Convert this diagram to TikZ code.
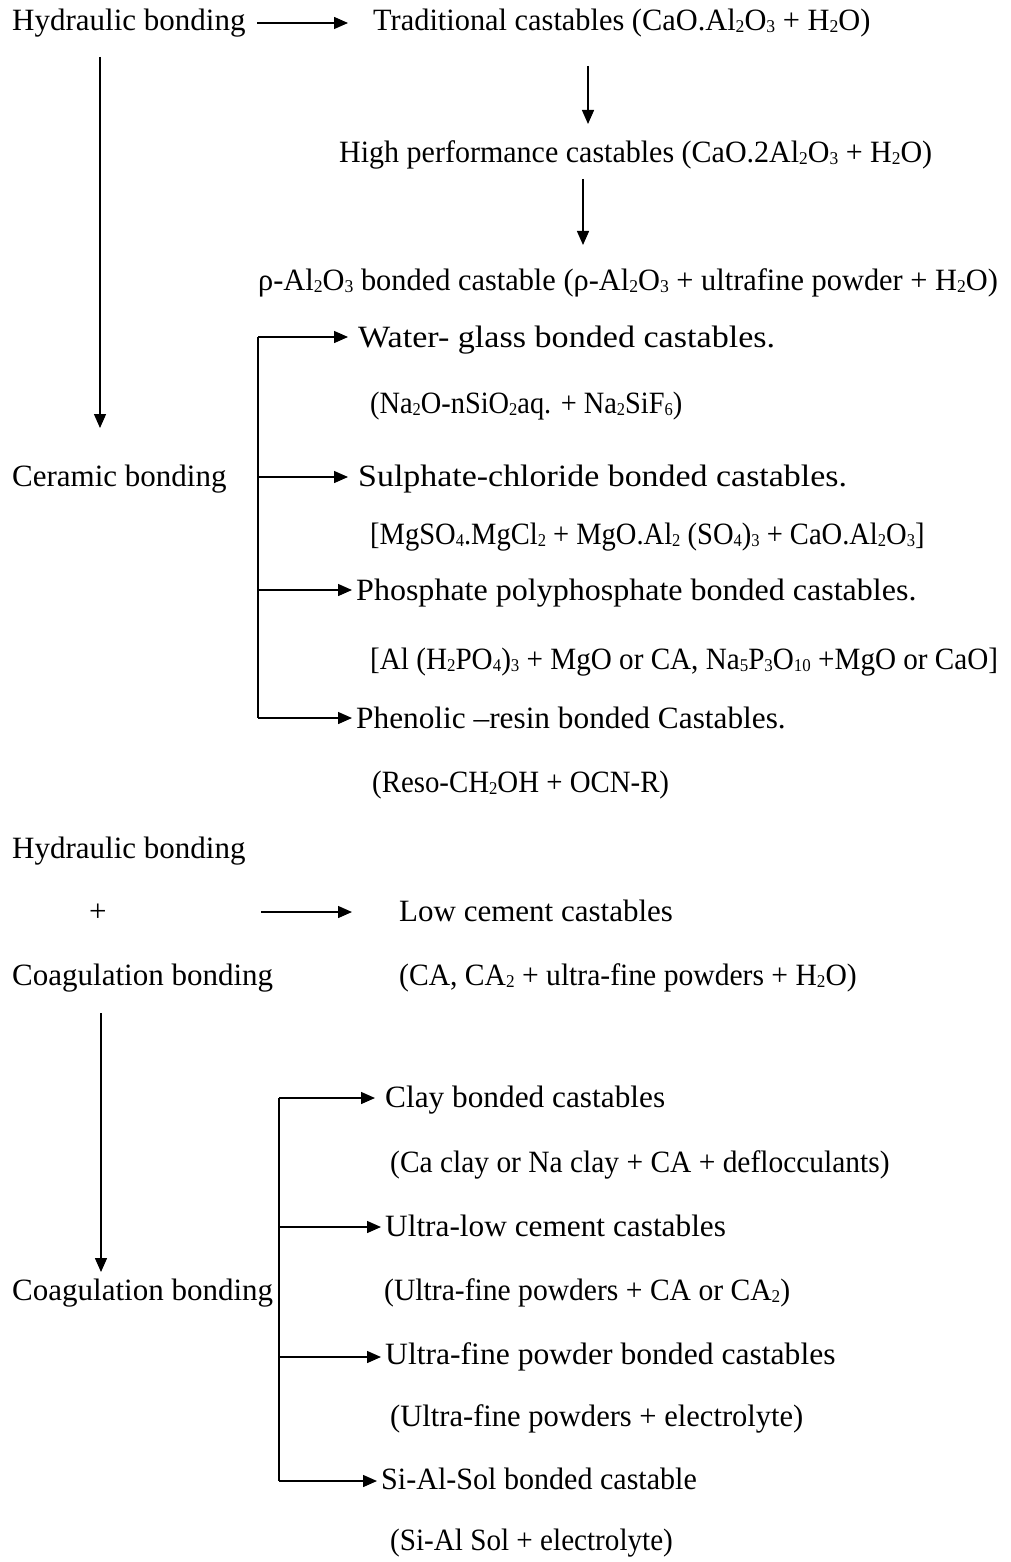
\documentclass[tikz,border=0pt]{standalone}
\usepackage{fontspec}
\usepackage{graphicx}
\setmainfont{Liberation Serif}
\usetikzlibrary{arrows.meta}
\newcommand\dn[1]{\raisebox{-2pt}{\fontsize{18}{18}\selectfont #1}}
\newcommand\sx[2]{\scalebox{#1}[1]{#2}}
\tikzset{
  lbl/.style={anchor=base west, inner sep=0pt, font=\fontsize{31}{37}\selectfont},
  arr/.style={-{Triangle[length=14pt,width=12pt]}, line width=1.4pt},
  ln/.style={line width=1.4pt}
}
\begin{document}
\begin{tikzpicture}[x=1pt,y=-1pt]
\useasboundingbox[fill=white] (0,0) rectangle (1010,1562);
% top part
\node[lbl] (h1) at (12,31) {Hydraulic bonding};
\node[lbl] (tc) at (373,31) {\sx{0.98}{Traditional castables (CaO.Al\dn{2}O\dn{3} + H\dn{2}O)}};
\node[lbl] (hp) at (339,163) {\sx{0.968}{High performance castables (CaO.2Al\dn{2}O\dn{3} + H\dn{2}O)}};
\node[lbl] (rho) at (258,290) {\sx{0.98}{ρ-Al\dn{2}O\dn{3} bonded castable (ρ-Al\dn{2}O\dn{3} + ultrafine powder + H\dn{2}O)}};
\node[lbl] (cb) at (12,486) {Ceramic bonding};
% first branch
\node[lbl] (wg) at (358,347) {\sx{1.10}{Water- glass bonded castables.}};
\node[lbl] (wgf) at (370,413) {\sx{0.915}{(Na\dn{2}O-nSiO\dn{2}aq. + Na\dn{2}SiF\dn{6})}};
\node[lbl] (sc) at (358,486) {\sx{1.094}{Sulphate-chloride bonded castables.}};
\node[lbl] (scf) at (370,544) {\sx{0.92}{[MgSO\dn{4}.MgCl\dn{2} + MgO.Al\dn{2} (SO\dn{4})\dn{3} + CaO.Al\dn{2}O\dn{3}]}};
\node[lbl] (pp) at (356,600) {\sx{1.033}{Phosphate polyphosphate bonded castables.}};
\node[lbl] (ppf) at (370,669) {\sx{0.94}{[Al (H\dn{2}PO\dn{4})\dn{3} + MgO or CA, Na\dn{5}P\dn{3}O\dn{10} +MgO or CaO]}};
\node[lbl] (pr) at (356,728) {\sx{1.01}{Phenolic –resin bonded Castables.}};
\node[lbl] (prf) at (372,792) {\sx{0.93}{(Reso-CH\dn{2}OH + OCN-R)}};
% middle part
\node[lbl] (h2) at (12,858) {Hydraulic bonding};
\node[lbl] (plus) at (89,921) {+};
\node[lbl] (lc) at (399,921) {Low cement castables};
\node[lbl] (cg1) at (12,985) {Coagulation bonding};
\node[lbl] (lcf) at (399,985) {\sx{0.955}{(CA, CA\dn{2} + ultra-fine powders + H\dn{2}O)}};
% bottom part
\node[lbl] (cg2) at (12,1300) {Coagulation bonding};
\node[lbl] (cl) at (385,1107) {\sx{1.01}{Clay bonded castables}};
\node[lbl] (clf) at (390,1172) {\sx{0.95}{(Ca clay or Na clay + CA + deflocculants)}};
\node[lbl] (ul) at (385,1236) {\sx{1.01}{Ultra-low cement castables}};
\node[lbl] (ulf) at (384,1300) {\sx{0.955}{(Ultra-fine powders + CA or CA\dn{2})}};
\node[lbl] (uf) at (385,1364) {\sx{1.02}{Ultra-fine powder bonded castables}};
\node[lbl] (uff) at (390,1426) {\sx{0.985}{(Ultra-fine powders + electrolyte)}};
\node[lbl] (sa) at (381,1489) {\sx{0.97}{Si-Al-Sol bonded castable}};
\node[lbl] (saf) at (390,1550) {\sx{0.94}{(Si-Al Sol + electrolyte)}};
% coordinates for connectors
\coordinate (a1s) at (257,23);  \coordinate (a1e) at (348,23);
\coordinate (a2s) at (588,66);  \coordinate (a2e) at (588,124);
\coordinate (a3s) at (583,179); \coordinate (a3e) at (583,245);
\coordinate (v1s) at (100,57);  \coordinate (v1e) at (100,428);
\coordinate (b1t) at (258,337); \coordinate (b1b) at (258,718);
\coordinate (b1a) at (258,477); \coordinate (b1c) at (258,590);
\coordinate (a4s) at (261,912); \coordinate (a4e) at (352,912);
\coordinate (v2s) at (101,1013); \coordinate (v2e) at (101,1272);
\coordinate (b2t) at (279,1098); \coordinate (b2b) at (279,1481);
\coordinate (b2a) at (279,1227); \coordinate (b2c) at (279,1357);
% connectors
\draw[arr] (a1s) -- (a1e);
\draw[arr] (a2s) -- (a2e);
\draw[arr] (a3s) -- (a3e);
\draw[arr] (v1s) -- (v1e);
\draw[ln] (b1t) -- (b1b);
\draw[arr] (b1t) -- ([xshift=-10pt]wg.west |- b1t);
\draw[arr] (b1a) -- ([xshift=-10pt]sc.west |- b1a);
\draw[arr] (b1c) -- ([xshift=-4pt]pp.west |- b1c);
\draw[arr] (b1b) -- ([xshift=-4pt]pr.west |- b1b);
\draw[arr] (a4s) -- (a4e);
\draw[arr] (v2s) -- (v2e);
\draw[ln] (b2t) -- (b2b);
\draw[arr] (b2t) -- ([xshift=-10pt]cl.west |- b2t);
\draw[arr] (b2a) -- ([xshift=-4pt]ul.west |- b2a);
\draw[arr] (b2c) -- ([xshift=-4pt]uf.west |- b2c);
\draw[arr] (b2b) -- ([xshift=-4pt]sa.west |- b2b);
\end{tikzpicture}
\end{document}
